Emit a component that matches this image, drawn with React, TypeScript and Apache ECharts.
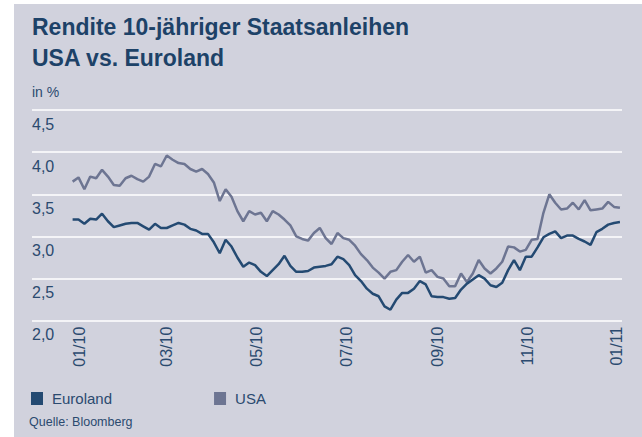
import React, { useEffect, useRef } from "react";
import * as echarts from "echarts";

const dates = [
  "2009-12-27","2009-12-31","2010-01-04","2010-01-08","2010-01-12","2010-01-16","2010-01-20","2010-01-24","2010-01-28","2010-02-01",
  "2010-02-05","2010-02-09","2010-02-13","2010-02-17","2010-02-21","2010-02-25","2010-03-01","2010-03-05","2010-03-09","2010-03-13",
  "2010-03-17","2010-03-21","2010-03-25","2010-03-29","2010-04-02","2010-04-06","2010-04-10","2010-04-14","2010-04-18","2010-04-22",
  "2010-04-26","2010-04-30","2010-05-04","2010-05-08","2010-05-12","2010-05-16","2010-05-20","2010-05-24","2010-05-28","2010-06-01",
  "2010-06-05","2010-06-09","2010-06-13","2010-06-17","2010-06-21","2010-06-25","2010-06-29","2010-07-03","2010-07-07","2010-07-11",
  "2010-07-15","2010-07-19","2010-07-23","2010-07-27","2010-07-31","2010-08-04","2010-08-08","2010-08-12","2010-08-16","2010-08-20",
  "2010-08-24","2010-08-28","2010-09-01","2010-09-05","2010-09-09","2010-09-13","2010-09-17","2010-09-21","2010-09-25","2010-09-29",
  "2010-10-03","2010-10-07","2010-10-11","2010-10-15","2010-10-19","2010-10-23","2010-10-27","2010-10-31","2010-11-04","2010-11-08",
  "2010-11-12","2010-11-16","2010-11-20","2010-11-24","2010-11-28","2010-12-02","2010-12-06","2010-12-10","2010-12-14","2010-12-18",
  "2010-12-22","2010-12-26","2010-12-30","2011-01-03",
];

const euroland = [
  3.20, 3.20, 3.15, 3.21, 3.20, 3.27, 3.18, 3.11, 3.13, 3.15,
  3.16, 3.16, 3.12, 3.08, 3.15, 3.10, 3.10, 3.13, 3.16, 3.14,
  3.09, 3.07, 3.03, 3.03, 2.93, 2.80, 2.96, 2.88, 2.75, 2.64,
  2.69, 2.66, 2.58, 2.53, 2.60, 2.67, 2.77, 2.65, 2.58, 2.58,
  2.59, 2.63, 2.64, 2.65, 2.67, 2.76, 2.73, 2.66, 2.54, 2.47,
  2.38, 2.32, 2.29, 2.17, 2.13, 2.25, 2.33, 2.33, 2.38, 2.47,
  2.43, 2.29, 2.28, 2.28, 2.26, 2.27, 2.37, 2.44, 2.49, 2.54,
  2.50, 2.42, 2.40, 2.45, 2.60, 2.72, 2.60, 2.76, 2.76, 2.87,
  2.99, 3.03, 3.06, 2.98, 3.01, 3.01, 2.97, 2.94, 2.90, 3.05,
  3.09, 3.14, 3.16, 3.17,
];

const usa = [
  3.65, 3.70, 3.56, 3.71, 3.69, 3.79, 3.71, 3.61, 3.60, 3.69,
  3.72, 3.68, 3.65, 3.71, 3.86, 3.83, 3.96, 3.91, 3.87, 3.86,
  3.80, 3.77, 3.80, 3.74, 3.64, 3.42, 3.56, 3.47, 3.30, 3.18,
  3.30, 3.26, 3.28, 3.18, 3.30, 3.26, 3.20, 3.13, 3.00, 2.97,
  2.95, 3.04, 3.10, 2.98, 2.91, 3.04, 2.98, 2.96, 2.89, 2.79,
  2.72, 2.63, 2.57, 2.50, 2.58, 2.60, 2.70, 2.78, 2.70, 2.76,
  2.57, 2.60, 2.52, 2.50, 2.41, 2.41, 2.56, 2.46, 2.56, 2.72,
  2.62, 2.56, 2.62, 2.70, 2.88, 2.87, 2.82, 2.84, 2.96, 2.97,
  3.28, 3.50, 3.40, 3.32, 3.33, 3.40, 3.32, 3.43, 3.31, 3.32,
  3.33, 3.41, 3.35, 3.34,
];

const tickDates = ["2010-01-01","2010-03-01","2010-05-01","2010-07-01","2010-09-01","2010-11-01","2011-01-01"];
const tickLabels = ["01/10","03/10","05/10","07/10","09/10","11/10","01/11"];

const BASE = Date.UTC(2010, 0, 1);
const toDay = (s: string) => (Date.parse(s) - BASE) / 86400000;

const FONT = '"Liberation Sans", Arial, sans-serif';
const TXT = "#2b4a6f";
const EURO_COLOR = "#244a72";
const USA_COLOR = "#6d7592";

export default function App() {
  const ref = useRef<HTMLDivElement>(null);
  useEffect(() => {
    if (!ref.current) return;
    const chart = echarts.init(ref.current, undefined, { renderer: "svg" });
    const tickDays = tickDates.map(toDay);
    chart.setOption({
      animation: false,
      backgroundColor: "#d1d2dd",
      textStyle: { fontFamily: FONT },
      graphic: [
        { type: "text", x: 18, y: 22.7, style: { text: "Rendite 10-jähriger Staatsanleihen", font: `bold 23px ${FONT}`, fill: "#1d4268", verticalAlign: "middle" } },
        { type: "text", x: 18, y: 54.3, style: { text: "USA vs. Euroland", font: `bold 23px ${FONT}`, fill: "#1d4268", verticalAlign: "middle" } },
        { type: "text", x: 18, y: 87.5, style: { text: "in %", font: `14px ${FONT}`, fill: TXT, verticalAlign: "middle" } },
        { type: "text", x: 15, y: 418, style: { text: "Quelle: Bloomberg", font: `12.5px ${FONT}`, fill: TXT, verticalAlign: "middle" } },
      ],
      legend: {
        left: 17,
        top: 387,
        padding: 0,
        icon: "rect",
        itemWidth: 12,
        itemHeight: 13,
        itemGap: 102,
        textStyle: { fontSize: 15, color: TXT, fontFamily: FONT, padding: [0, 0, 0, 4] },
        data: ["Euroland", "USA"],
      },
      grid: { left: 18, right: 20, top: 106, height: 210.7 },
      xAxis: {
        type: "value",
        min: -32.6,
        max: 368.4,
        axisLine: { show: false },
        axisTick: { show: false },
        splitLine: { show: false },
        axisLabel: {
          customValues: tickDays,
          rotate: 90,
          margin: 6,
          fontSize: 16,
          color: TXT,
          fontFamily: FONT,
          formatter: (v: number) => {
            const i = tickDays.findIndex((d) => Math.abs(d - v) < 0.5);
            return i >= 0 ? tickLabels[i] : "";
          },
        },
      },
      yAxis: {
        type: "value",
        min: 2,
        max: 4.5,
        interval: 0.5,
        axisLine: { show: false },
        axisTick: { show: false },
        splitLine: { show: true, lineStyle: { color: "#ffffff", width: 1.5 } },
        axisLabel: {
          inside: true,
          margin: 0,
          verticalAlign: "top",
          padding: [6, 0, 0, 0],
          fontSize: 16,
          color: TXT,
          fontFamily: FONT,
          showMinLabel: true,
          showMaxLabel: true,
          formatter: (v: number) => v.toFixed(1).replace(".", ","),
        },
      },
      series: [
        {
          name: "USA",
          type: "line",
          showSymbol: false,
          color: USA_COLOR,
          lineStyle: { width: 2.5, color: USA_COLOR },
          data: dates.map((d, i) => [toDay(d), usa[i]]),
        },
        {
          name: "Euroland",
          type: "line",
          showSymbol: false,
          color: EURO_COLOR,
          lineStyle: { width: 2.5, color: EURO_COLOR },
          data: dates.map((d, i) => [toDay(d), euroland[i]]),
        },
      ],
    });
    return () => chart.dispose();
  }, []);
  return (
    <div style={{ position: "fixed", left: 0, top: 0, width: 642, height: 437, background: "#ffffff" }}>
      <div ref={ref} style={{ position: "absolute", left: 14, top: 4, width: 628, height: 433 }} />
    </div>
  );
}
